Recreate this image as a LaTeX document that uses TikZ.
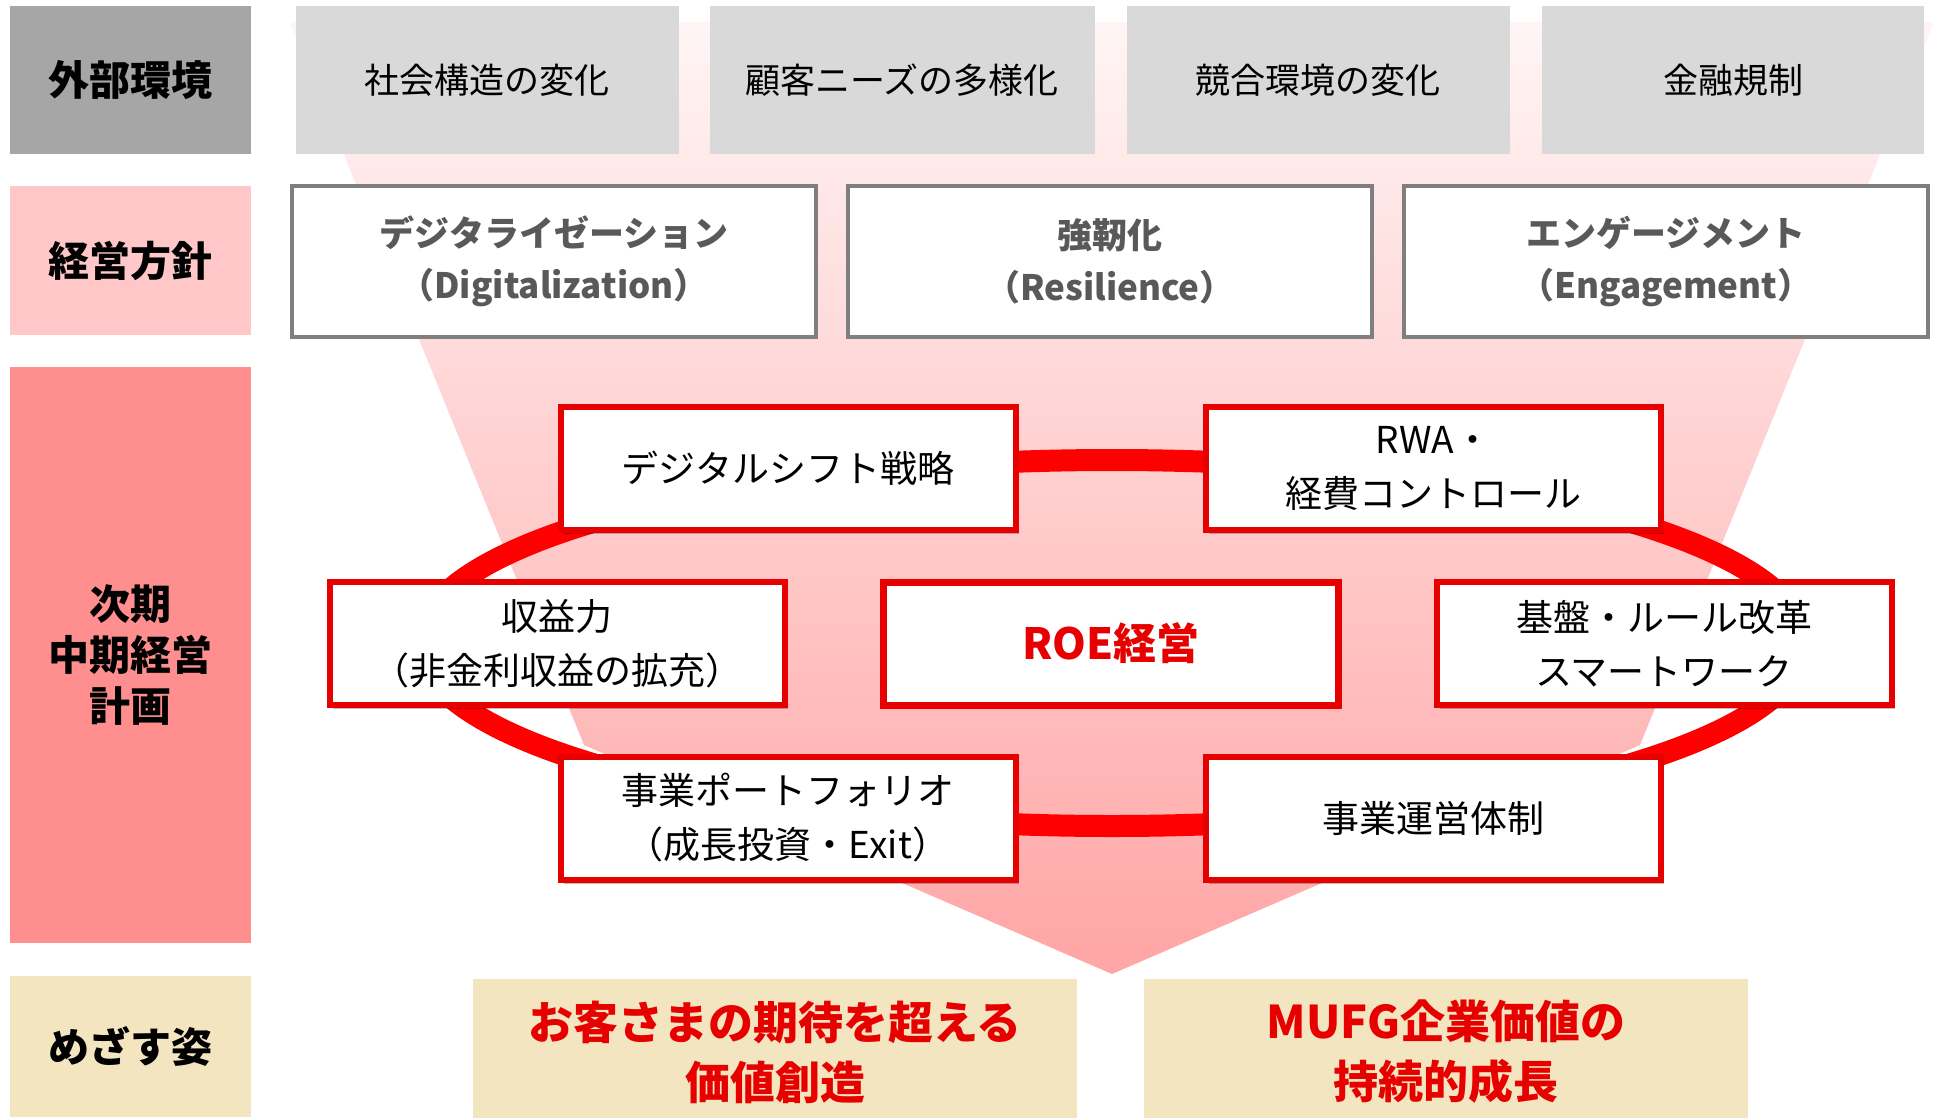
\documentclass[tikz,border=0pt]{standalone}
\usepackage{fontspec}
\setmainfont{Noto Sans CJK JP}
\usetikzlibrary{shadows}
\definecolor{labA}{HTML}{A6A6A6}
\definecolor{labB}{HTML}{FFC7C7}
\definecolor{labC}{HTML}{FF8F8F}
\definecolor{labD}{HTML}{F3E5C0}
\definecolor{envgray}{HTML}{D9D9D9}
\definecolor{polborder}{HTML}{7F7F7F}
\definecolor{poltext}{HTML}{595959}
\definecolor{mred}{HTML}{E60000}
\definecolor{ringred}{HTML}{FF0000}
\definecolor{funtop}{RGB}{255,245,245}
\definecolor{funbot}{RGB}{255,165,165}
\tikzset{
  labbox/.style={rectangle, inner sep=0pt, minimum width=241pt, align=center,
    font=\bfseries\fontsize{41}{51}\selectfont, text=black},
  envbox/.style={rectangle, inner sep=0pt, fill=envgray, minimum height=148pt,
    font=\fontsize{35}{44}\selectfont, text=black},
  polbox/.style={rectangle, inner sep=0pt, draw=polborder, line width=4pt, fill=white,
    minimum width=524pt, minimum height=151pt, align=center,
    font=\bfseries\fontsize{35}{52}\selectfont, text=poltext},
  stratbox/.style={rectangle, inner sep=0pt, draw=mred, line width=6pt, fill=white,
    minimum width=455pt, minimum height=123pt, align=center,
    font=\fontsize{37}{54}\selectfont, text=black,
    drop shadow={shadow xshift=3pt, shadow yshift=-4pt, opacity=0.25, fill=black}},
  goalbox/.style={rectangle, inner sep=0pt, fill=labD, minimum width=604pt,
    minimum height=146pt, align=center,
    font=\bfseries\fontsize{45}{60}\selectfont, text=mred},
}
\begin{document}
\begin{tikzpicture}[x=1pt,y=-1pt]
\useasboundingbox (0,0) rectangle (1933,1117);
% funnel
\shade[top color=funtop, bottom color=funbot]
  (290,22) -- (1934,22) -- (1640,745) -- (1112,974) -- (584,745) -- cycle;

% left labels
\node[labbox, fill=labA, minimum height=148pt] (l1) at (130.5,80) {外部環境};
\node[labbox, fill=labB, minimum height=149pt] (l2) at (130.5,260.5) {経営方針};
\node[labbox, fill=labC, minimum height=576pt] (l3) at (130.5,655) {次期\\中期経営\\計画};
\node[labbox, fill=labD, minimum height=141pt] (l4) at (130.5,1046.5) {めざす姿};

% external environment
\node[envbox, minimum width=383pt] (e1) at (487,80) {社会構造の変化};
\node[envbox, minimum width=385pt] (e2) at (902,80) {顧客ニーズの多様化};
\node[envbox, minimum width=383pt] (e3) at (1318,80) {競合環境の変化};
\node[envbox, minimum width=382pt] (e4) at (1733,80) {金融規制};

% policies
\node[polbox] (p1) at (554,261.5) {デジタライゼーション\\（Digitalization）};
\node[polbox] (p2) at (1110,261.5) {強靭化\\（Resilience）};
\node[polbox] (p3) at (1666,261.5) {エンゲージメント\\（Engagement）};

% ring
\coordinate (ringc) at (1112,643);
\draw[ringred, line width=22pt] (ringc) ellipse [x radius=692, y radius=183];

\node[stratbox] (ds) at (788,468.5) {デジタルシフト戦略};
\node[stratbox] (rwa) at (1433.5,468.5) {RWA・\\経費コントロール};
\node[stratbox] (shu) at (557,643.5) {収益力\\（非金利収益の拡充）};
\node[stratbox, line width=7pt, font=\bfseries\fontsize{43}{54}\selectfont, text=mred] (roe) at (1111,643.5) {ROE経営};
\node[stratbox] (kib) at (1664,643.5) {基盤・ルール改革\\スマートワーク};
\node[stratbox] (port) at (788,818) {事業ポートフォリオ\\（成長投資・Exit）};
\node[stratbox] (unei) at (1433.5,818) {事業運営体制};

% goals
\node[goalbox] (g1) at (775,1052) {お客さまの期待を超える\\価値創造};
\node[goalbox] (g2) at (1446,1052) {MUFG企業価値の\\持続的成長};
\end{tikzpicture}
\end{document}
